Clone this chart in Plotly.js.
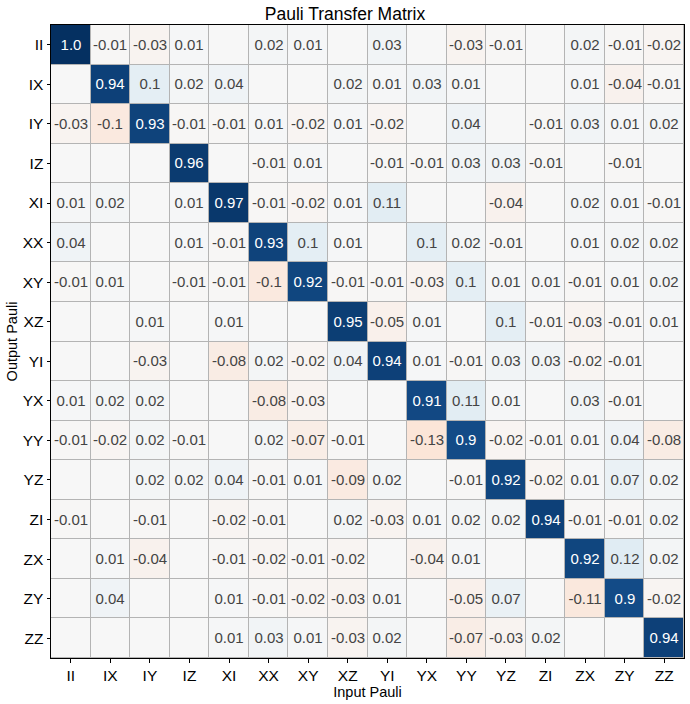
<!DOCTYPE html>
<html>
<head>
<meta charset="utf-8">
<script src="https://cdn.plot.ly/plotly-3.0.1.min.js"></script>
<style>html,body{margin:0;padding:0;background:#fff;}#chart{width:690px;height:704px;}</style>
</head>
<body>
<div id="chart"></div>
<script>
const paulis = ["II","IX","IY","IZ","XI","XX","XY","XZ","YI","YX","YY","YZ","ZI","ZX","ZY","ZZ"];

const rowII = [1.0,-0.01,-0.03,0.01,0,0.02,0.01,0,0.03,0,-0.03,-0.01,0,0.02,-0.01,-0.02];
const rowIX = [0,0.94,0.1,0.02,0.04,0,0,0.02,0.01,0.03,0.01,0,0,0.01,-0.04,-0.01];
const rowIY = [-0.03,-0.1,0.93,-0.01,-0.01,0.01,-0.02,0.01,-0.02,0,0.04,0,-0.01,0.03,0.01,0.02];
const rowIZ = [0,0,0,0.96,0,-0.01,0.01,0,-0.01,-0.01,0.03,0.03,-0.01,0,-0.01,0];
const rowXI = [0.01,0.02,0,0.01,0.97,-0.01,-0.02,0.01,0.11,0,0,-0.04,0,0.02,0.01,-0.01];
const rowXX = [0.04,0,0,0.01,-0.01,0.93,0.1,0.01,0,0.1,0.02,-0.01,0,0.01,0.02,0.02];
const rowXY = [-0.01,0.01,0,-0.01,-0.01,-0.1,0.92,-0.01,-0.01,-0.03,0.1,0.01,0.01,-0.01,0.01,0.02];
const rowXZ = [0,0,0.01,0,0.01,0,0,0.95,-0.05,0.01,0,0.1,-0.01,-0.03,-0.01,0.01];
const rowYI = [0,0,-0.03,0,-0.08,0.02,-0.02,0.04,0.94,0.01,-0.01,0.03,0.03,-0.02,-0.01,0];
const rowYX = [0.01,0.02,0.02,0,0,-0.08,-0.03,0,0,0.91,0.11,0.01,0,0.03,-0.01,0];
const rowYY = [-0.01,-0.02,0.02,-0.01,0,0.02,-0.07,-0.01,0,-0.13,0.9,-0.02,-0.01,0.01,0.04,-0.08];
const rowYZ = [0,0,0.02,0.02,0.04,-0.01,0.01,-0.09,0.02,0,-0.01,0.92,-0.02,0.01,0.07,0.02];
const rowZI = [-0.01,0,-0.01,0,-0.02,-0.01,0,0.02,-0.03,0.01,0.02,0.02,0.94,-0.01,-0.01,0.02];
const rowZX = [0,0.01,-0.04,0,-0.01,-0.02,-0.01,-0.02,0,-0.04,0.01,0,0,0.92,0.12,0.02];
const rowZY = [0,0.04,0,0,0.01,-0.01,-0.02,-0.03,0.01,0,-0.05,0.07,0,-0.11,0.9,-0.02];
const rowZZ = [0,0,0,0,0.01,0.03,0.01,-0.03,0.02,0,-0.07,-0.03,0.02,0,0,0.94];

const z = [rowII,rowIX,rowIY,rowIZ,rowXI,rowXX,rowXY,rowXZ,rowYI,rowYX,rowYY,rowYZ,rowZI,rowZX,rowZY,rowZZ];
const text = z.map(r => r.map(v => v === 0 ? "" : (v === 1 ? "1.0" : String(v))));

const rdbu = [
  [0.0,"#67001f"],[0.1,"#b2182b"],[0.2,"#d6604d"],[0.3,"#f4a582"],[0.4,"#fddbc7"],
  [0.5,"#f7f7f7"],[0.6,"#d1e5f0"],[0.7,"#92c5de"],[0.8,"#4393c3"],[0.9,"#2166ac"],[1.0,"#053061"]
];

const font = "Liberation Sans, Arial, sans-serif";

Plotly.newPlot("chart", [{
  type: "heatmap",
  x: paulis, y: paulis, z: z,
  text: text, texttemplate: "%{text}",
  textfont: {family: font, size: 15},
  colorscale: rdbu, zmin: -1, zmax: 1,
  showscale: false, xgap: 1, ygap: 1,
  hoverongaps: false
}], {
  width: 690, height: 704,
  margin: {l: 51, r: 6, t: 25, b: 46},
  paper_bgcolor: "#fff", plot_bgcolor: "#b4b4b4",
  font: {family: font, size: 15, color: "#000"},
  title: {text: "Pauli Transfer Matrix", font: {family: font, size: 17.5, color: "#000"}, x: 0.5, xanchor: "center", y: 0.981, yanchor: "middle"},
  xaxis: {
    title: {text: "Input Pauli", font: {size: 14.5}, standoff: 1},
    showline: true, linecolor: "#000", linewidth: 1, mirror: true,
    ticks: "outside", ticklen: 3.5, tickcolor: "#000", showgrid: false, zeroline: false,
    tickfont: {size: 15.5}
  },
  yaxis: {
    title: {text: "Output Pauli", font: {size: 14.5}, standoff: 1},
    autorange: "reversed",
    showline: true, linecolor: "#000", linewidth: 1, mirror: true,
    ticks: "outside", ticklen: 3.5, tickcolor: "#000", showgrid: false, zeroline: false,
    tickfont: {size: 15.5}
  }
}, {displayModeBar: false, staticPlot: true});
</script>
</body>
</html>
